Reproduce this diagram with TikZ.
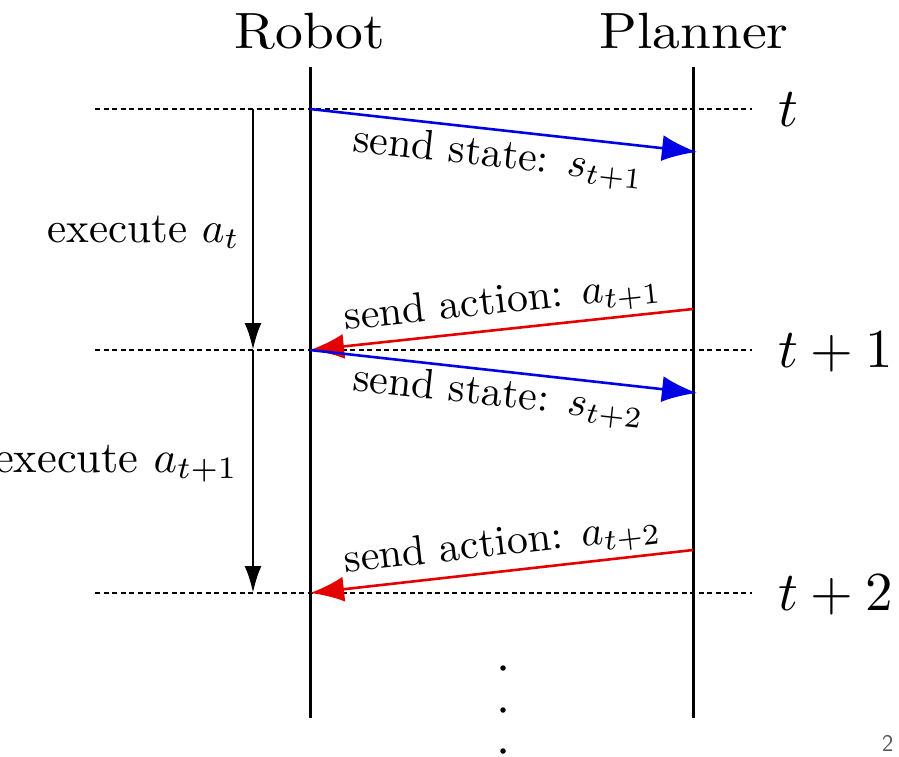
\RequirePackage{fix-cm}
\documentclass[tikz,border=0pt]{standalone}
\usepackage{graphicx}
\usetikzlibrary{arrows.meta}
% text sizes: 10pt Computer Modern blown up
\newcommand{\headtxt}[1]{\scalebox{5.55}[5.1]{#1}}
\newcommand{\msgtxt}[1]{\scalebox{4.2}{#1}}
\newcommand{\exectxt}[1]{\scalebox{4.3}{#1}}
\newcommand{\timetxt}[1]{\scalebox{5.5}{#1}}
\begin{document}
\begin{tikzpicture}[x=1pt,y=-1pt,
  lifeline/.style={line width=3pt},
  tick/.style={dash pattern=on 5pt off 3.5pt, line width=2.5pt},
  statemsg/.style={draw=blue!90!black, line width=2.6pt, -{Latex[length=35pt,width=26pt]}},
  actionmsg/.style={draw=red!90!black, line width=2.6pt, -{Latex[length=34pt,width=25pt]}},
  execmsg/.style={line width=2.8pt, -{Latex[length=27pt,width=17pt]}},
  lbl/.style={inner sep=2pt},
  dot/.style={fill=black, circle, inner sep=0pt, minimum size=5.5pt}
]
\useasboundingbox (0,0) rectangle (899,756);

% participants and lifelines
\node[anchor=base, inner sep=0pt] (robot) at (310,48) {\headtxt{Robot}};
\node[anchor=base, inner sep=0pt] (planner) at (694,48) {\headtxt{Planner}};
\coordinate (rtop) at (310,67);
\coordinate (rbot) at (310,718);
\coordinate (ptop) at (693,67);
\coordinate (pbot) at (693,718);
\draw[lifeline] (rtop) -- (rbot);
\draw[lifeline] (ptop) -- (pbot);

% time ticks
\coordinate (l0) at (95,109);  \coordinate (e0) at (752,109);
\coordinate (l1) at (95,350);  \coordinate (e1) at (752,350);
\coordinate (l2) at (95,593);  \coordinate (e2) at (752,593);
\draw[tick] (l0) -- (e0);
\draw[tick] (l1) -- (e1);
\draw[tick] (l2) -- (e2);
\node[anchor=base west, inner sep=0pt] (t0) at (778,126) {\timetxt{$t$}};
\node[anchor=base west, inner sep=0pt] (t1) at (778,367) {\timetxt{$t+1$}};
\node[anchor=base west, inner sep=0pt] (t2) at (778,610) {\timetxt{$t+2$}};

% execution on the robot side
\coordinate (x0) at (253,109);
\coordinate (x1) at (253,350);
\coordinate (x2) at (253,593);
\draw[execmsg] (x0) -- (x1);
\draw[execmsg] (x1) -- (x2);
\node[anchor=base east, inner sep=0pt] (ex0) at (240,242) {\exectxt{execute $a_t$}};
\node[anchor=base east, inner sep=0pt] (ex1) at (238,472) {\scalebox{4.45}{execute $a_{t+1}$}};

% messages
\coordinate (r0) at (310,109);
\coordinate (r1) at (310,350);
\coordinate (r2) at (310,593);
\coordinate (p0) at (697,152);
\coordinate (pa1) at (693,309);
\coordinate (p1) at (697,393);
\coordinate (pa2) at (693,550);
\draw[statemsg] (r0) -- (p0) node[lbl, pos=0.495, sloped, below=5pt] (ss1) {\msgtxt{send state: $s_{t+1}$}};
\draw[actionmsg] (pa1) -- (r1) node[lbl, pos=0.49, sloped, above=3pt] (sa1) {\msgtxt{send action: $a_{t+1}$}};
\draw[statemsg] (r1) -- (p1) node[lbl, pos=0.495, sloped, below=3pt] (ss2) {\msgtxt{send state: $s_{t+2}$}};
\draw[actionmsg] (pa2) -- (r2) node[lbl, pos=0.49, sloped, above=3pt] (sa2) {\msgtxt{send action: $a_{t+2}$}};

% continuation
\node[dot] (d1) at (503,668) {};
\node[dot] (d2) at (503,710) {};
\node[dot] (d3) at (503,751) {};

% page number
\node[font=\sffamily\fontsize{24}{28}\selectfont, text=black!65, anchor=base west, inner sep=0pt] (pg) at (882,751) {2};
\end{tikzpicture}
\end{document}
